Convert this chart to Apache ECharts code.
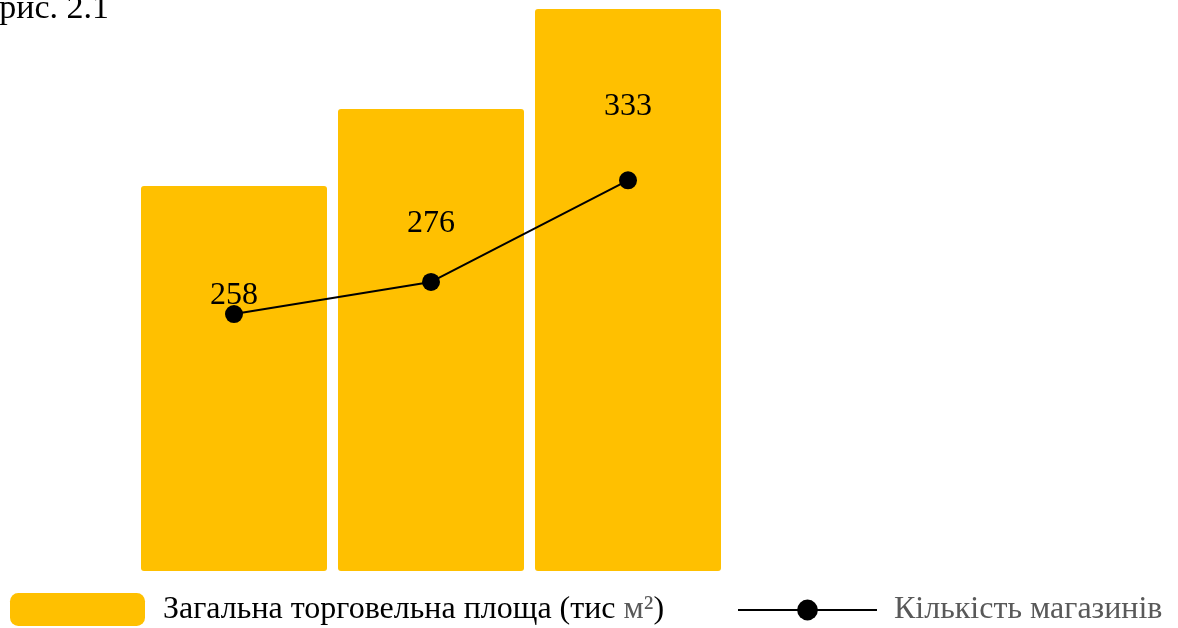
<!DOCTYPE html>
<html>
<head>
<meta charset="utf-8">
<script src="https://cdn.jsdelivr.net/npm/echarts@6/dist/echarts.min.js"></script>
<style>
  html, body { margin: 0; padding: 0; background: #fff; }
  #main { width: 1178px; height: 628px; }
</style>
</head>
<body>
<div id="main"></div>
<script>
// дані
var categories = ['1', '2', '3'];
var areaValues = [385, 462, 562];      // Загальна торговельна площа (тис м²), відносні висоти
var storeCounts = [258, 276, 333];     // Кількість магазинів

// зсуви підписів над точками (лише розміщення)
var labelShift = [-18, -58, -74];

var FONT = 'Liberation Serif';
var chart = echarts.init(document.getElementById('main'));

var lineData = storeCounts.map(function (v, i) {
  return { value: v, label: { offset: [0, labelShift[i]] } };
});

var option = {
  animation: false,
  textStyle: { fontFamily: FONT },
  grid: { left: 135.5, right: 451.5, top: 9, bottom: 57, containLabel: false },
  graphic: [{
    type: 'text',
    right: 1178 - 109,
    top: -8,
    style: { text: 'рис. 2.1', font: '34px "Liberation Serif"', fill: '#000', textAlign: 'right' }
  }],
  legend: [{
    data: ['Загальна торговельна площа (тис м²)'],
    left: 10,
    top: 593,
    itemWidth: 135,
    itemHeight: 33,
    padding: 0,
    itemStyle: { borderRadius: 3 },
    formatter: function () {
      return '{b|Загальна торговельна площа (тис }{g|м²}{b|)}';
    },
    textStyle: {
      padding: [0, 0, 0, 13],
      rich: {
        b: { fontFamily: FONT, fontSize: 32, color: '#000' },
        g: { fontFamily: FONT, fontSize: 32, color: '#595959' }
      }
    }
  }, {
    data: ['Кількість магазинів'],
    left: 737,
    top: 594,
    itemWidth: 139,
    itemHeight: 26,
    padding: 0,
    textStyle: { fontFamily: FONT, fontSize: 32, color: '#595959', padding: [0, 0, 0, 12] }
  }],
  xAxis: {
    type: 'category',
    data: categories,
    show: false
  },
  yAxis: [{
    type: 'value',
    min: 0,
    max: 562,
    show: false
  }, {
    type: 'value',
    min: 114,
    max: 429,
    show: false
  }],
  series: [{
    name: 'Загальна торговельна площа (тис м²)',
    type: 'bar',
    data: areaValues,
    barWidth: 186,
    itemStyle: { color: '#FFC000', borderRadius: 3 }
  }, {
    name: 'Кількість магазинів',
    type: 'line',
    yAxisIndex: 1,
    data: lineData,
    symbol: 'circle',
    symbolSize: 18,
    itemStyle: { color: '#000' },
    lineStyle: { color: '#000', width: 2 },
    label: {
      show: true,
      position: 'inside',
      fontFamily: FONT,
      fontSize: 32,
      color: '#000'
    }
  }]
};

chart.setOption(option);
</script>
</body>
</html>
